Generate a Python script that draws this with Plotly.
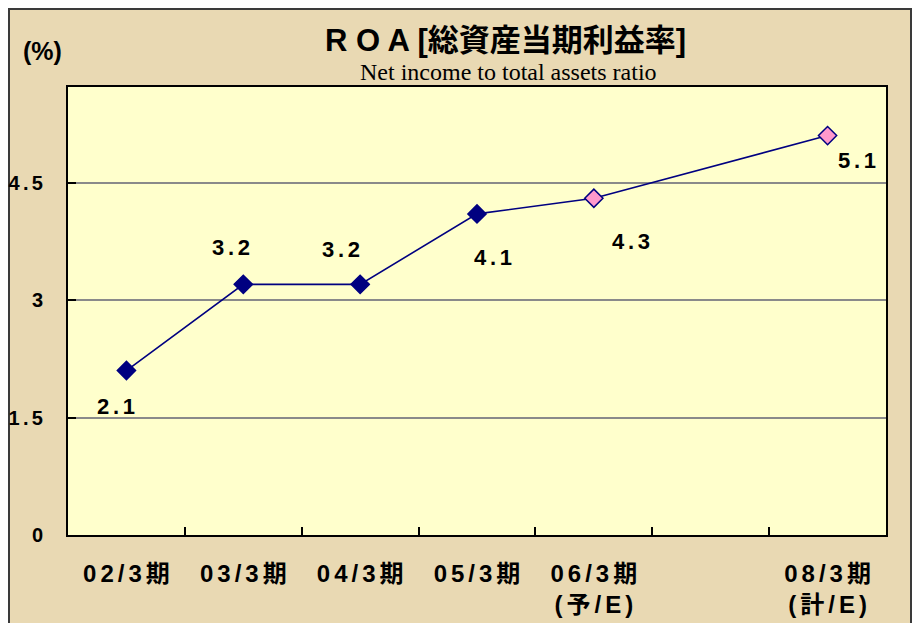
import plotly.graph_objects as go

# data
periods = ["02/3期", "03/3期", "04/3期", "05/3期", "06/3期", "07/3期", "08/3期"]
period_notes = ["", "", "", "", "(予/E)", None, "(計/E)"]
roa = [2.1, 3.2, 3.2, 4.1, 4.3, None, 5.1]
is_estimate = [False, False, False, False, True, False, True]
y_ticks = [0, 1.5, 3, 4.5]

# label offsets in pixels (dx, dy), one per point
label_offsets = [(-10, -36), (-12, 37), (-19, 35), (16, -44), (37, -43), None, (29, -25)]

# the page body keeps its 8px margin, so the figure is 8px smaller than the window
OFF = 8
W, H = 920 - OFF, 623 - OFF
# plot area in window pixels
PL, PR, PT, PB = 68, 886, 87, 535
L, R, T, B = PL - OFF, W - (PR - OFF), PT - OFF, H - (PB - OFF)

NAVY = '#000080'
PINK = '#FF99CC'
PARCH = '#E9D9B3'
SP = '\u2006'


def spaced(s):
    # the original draws its labels with a little letter spacing
    return SP.join(s)


def px_x(p):
    return (p - PL) / (PR - PL)


def px_y(p):
    return (PB - p) / (PB - PT)


tick_text = []
for p, n in zip(periods, period_notes):
    if n is None:
        tick_text.append('')
    elif n:
        tick_text.append(spaced(p) + '<br>' + spaced(n))
    else:
        tick_text.append(spaced(p))

fig = go.Figure()

fig.add_trace(go.Scatter(x=periods, y=roa, mode='lines+markers',
                         connectgaps=True,
                         line=dict(color=NAVY, width=1.6),
                         marker=dict(symbol='diamond', size=14,
                                     color=[PINK if e else NAVY for e in is_estimate],
                                     line=dict(color=NAVY, width=1.5)),
                         showlegend=False, hoverinfo='x+y'))

bold = dict(family='Liberation Sans, Arial, Noto Sans CJK JP', color='black', weight='bold')

# value labels
for p, v, off in zip(periods, roa, label_offsets):
    if v is None:
        continue
    fig.add_annotation(x=p, y=v, text=spaced(f'{v:.1f}'), showarrow=False,
                       xshift=off[0], yshift=off[1],
                       font=dict(bold, size=22))

# title, subtitle and unit
head = dict(xref='paper', yref='paper', showarrow=False, xanchor='center', yanchor='middle')
fig.add_annotation(head, x=px_x(505), y=px_y(40),
                   text='R O A [総資産当期利益率]',
                   font=dict(bold, size=31, family='Liberation Sans, Noto Sans CJK JP'))
fig.add_annotation(head, x=px_x(508), y=px_y(72),
                   text='Net income to total assets ratio',
                   font=dict(family='Liberation Serif, Times New Roman, serif', size=24, color='black'))
fig.add_annotation(head, x=px_x(42), y=px_y(51),
                   text='(%)', font=dict(bold, size=25))

# frame around the chart: dark outline and a shadow on the right
fig.add_shape(type='rect', xref='paper', yref='paper', layer='below',
              x0=px_x(912), x1=px_x(940), y0=px_y(17), y1=px_y(650),
              fillcolor='black', line_width=0)
fig.add_shape(type='rect', xref='paper', yref='paper', layer='below',
              x0=px_x(9), x1=px_x(911), y0=px_y(9), y1=px_y(650),
              fillcolor='rgba(0,0,0,0)', line=dict(color='#3a3a3a', width=2))

fig.update_xaxes(type='category', categoryorder='array', categoryarray=periods,
                 tickvals=periods, ticktext=tick_text, tickson='boundaries',
                 ticks='inside', ticklen=8, tickwidth=1.5, tickcolor='black',
                 showline=True, linecolor='black', linewidth=2, mirror=True,
                 showgrid=False, range=[-0.5, 6.5], automargin=False,
                 tickfont=dict(bold, size=24), ticklabelstandoff=16)
fig.update_yaxes(range=[0, 5.72], tickvals=y_ticks,
                 ticktext=[spaced(f'{t:g}') for t in y_ticks],
                 ticks='inside', ticklen=8, tickwidth=1.5, tickcolor='black',
                 showline=True, linecolor='black', linewidth=2, mirror=True,
                 showgrid=True, gridcolor='#8a8a8a', gridwidth=1.5, zeroline=False,
                 automargin=False,
                 tickfont=dict(bold, size=20), ticklabelstandoff=19)

fig.update_layout(
    width=W, height=H,
    margin=dict(l=L, r=R, t=T, b=B, autoexpand=False),
    paper_bgcolor=PARCH,
    plot_bgcolor='#FFFFCC',
    showlegend=False,
)

fig.write_html("out.html")
